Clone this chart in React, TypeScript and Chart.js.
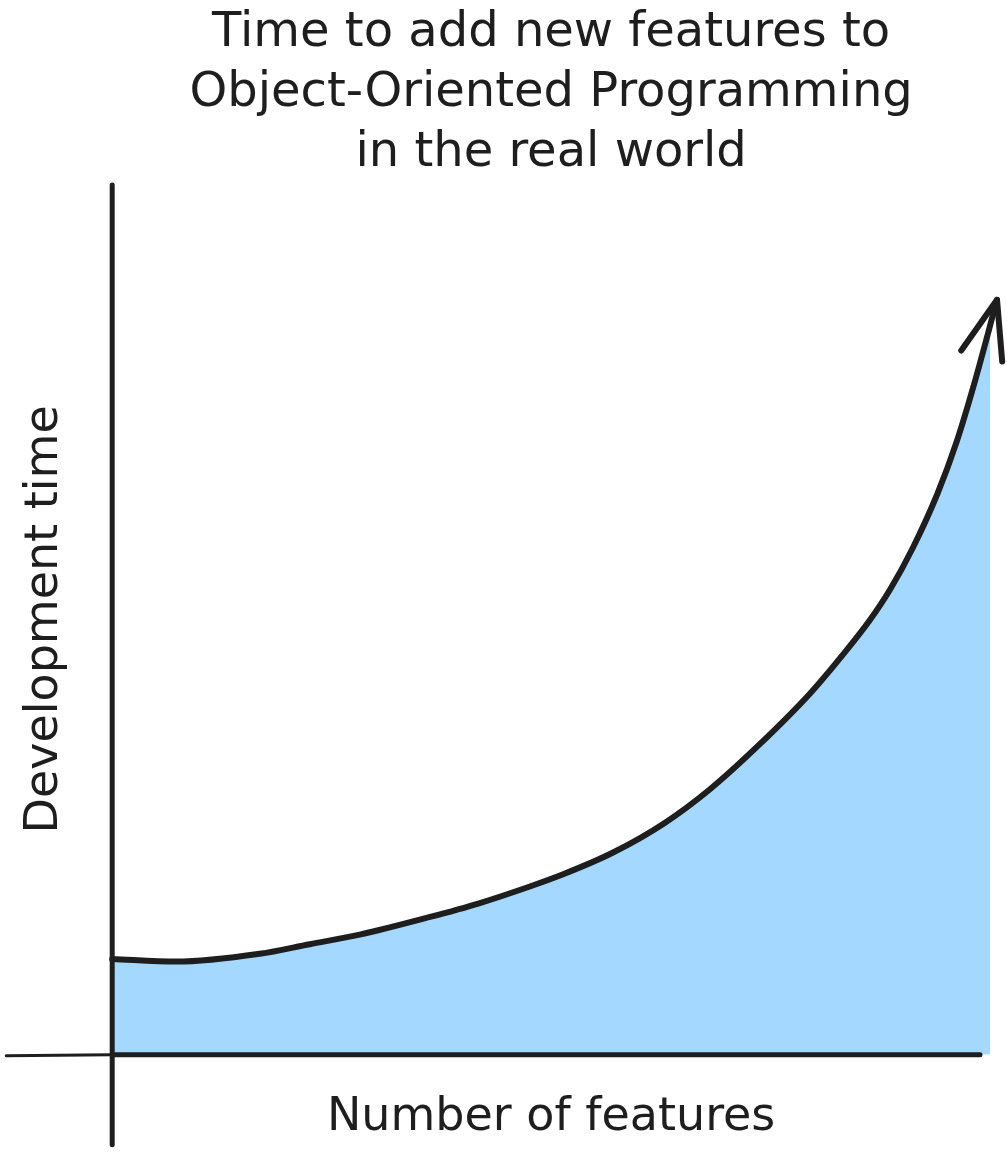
import React, { useEffect, useRef } from "react";
import { Chart, registerables } from "chart.js";

Chart.register(...registerables);

// ---- Text ----
const titleLines = ["Time to add new features to", "Object-Oriented Programming", "in the real world"];
const xAxisLabel = "Number of features";
const yAxisLabel = "Development time";

// ---- Data (arbitrary units 0..100 on both axes) ----
const featureCounts = [0, 7.3, 16.8, 22.5, 28.2, 36.1, 41.8, 47.5, 51.3, 57.0, 62.9, 68.1, 73.8, 79.5, 83.2, 86.3, 88.6, 91.2, 94.0, 96.2, 98.1, 100.8];
const devTime = [11.0, 10.7, 11.6, 12.7, 13.8, 15.8, 17.4, 19.3, 20.7, 23.2, 26.6, 30.5, 35.7, 41.5, 45.9, 49.9, 53.4, 58.2, 64.4, 70.4, 76.7, 86.7];
// the shaded area stops at the right edge, a bit short of the arrow tip
const fillEndX = [100];
const fillEndY = [83.2];

const INK = "#1e1e1e";
const BLUE = "#a5d8ff";
const FONT = "'DejaVu Sans', sans-serif";

const sketchPlugin = {
  id: "sketch",
  afterDatasetsDraw(chart: any) {
    const { ctx, chartArea, scales } = chart;
    const x0 = scales.x.getPixelForValue(0);
    const y0 = scales.y.getPixelForValue(0);
    ctx.save();
    ctx.strokeStyle = INK;
    ctx.lineCap = "round";
    ctx.lineJoin = "round";
    // y axis
    ctx.lineWidth = 5;
    ctx.beginPath();
    ctx.moveTo(x0, chartArea.top + 1);
    ctx.lineTo(x0, chartArea.bottom + 90);
    ctx.stroke();
    // x axis (thin stub left of the y axis)
    ctx.lineWidth = 3;
    ctx.beginPath();
    ctx.moveTo(chartArea.left - 106, y0 + 1);
    ctx.lineTo(x0, y0);
    ctx.stroke();
    ctx.lineWidth = 5;
    ctx.beginPath();
    ctx.moveTo(x0, y0);
    ctx.lineTo(chartArea.right - 10, y0);
    ctx.stroke();
    // arrow head at the end of the curve
    const pts = chart.getDatasetMeta(0).data;
    const tip = pts[pts.length - 1];
    const prev = pts[pts.length - 2];
    const ang = Math.atan2(prev.y - tip.y, prev.x - tip.x);
    const len = 62;
    const spread = (20 * Math.PI) / 180;
    ctx.lineWidth = 6;
    ctx.beginPath();
    ctx.moveTo(tip.x + len * Math.cos(ang + spread), tip.y + len * Math.sin(ang + spread));
    ctx.lineTo(tip.x, tip.y);
    ctx.lineTo(tip.x + len * Math.cos(ang - spread), tip.y + len * Math.sin(ang - spread));
    ctx.stroke();
    ctx.restore();
  },
};

export default function App() {
  const canvasRef = useRef<HTMLCanvasElement | null>(null);

  useEffect(() => {
    document.body.style.margin = "0";
    const canvas = canvasRef.current;
    if (!canvas) return;

    const curve = featureCounts.map((x, i) => ({ x, y: devTime[i] }));
    const area = featureCounts
      .map((x, i) => ({ x, y: devTime[i] }))
      .filter((p) => p.x < fillEndX[0])
      .concat(fillEndX.map((x, i) => ({ x, y: fillEndY[i] })));

    const chart = new Chart(canvas, {
      type: "line",
      data: {
        datasets: [
          {
            label: "curve",
            data: curve,
            borderColor: INK,
            borderWidth: 6,
            borderCapStyle: "round",
            borderJoinStyle: "round",
            pointRadius: 0,
            fill: false,
            cubicInterpolationMode: "monotone",
            clip: false,
          } as any,
          {
            label: "area",
            data: area,
            backgroundColor: BLUE,
            borderColor: "rgba(0,0,0,0)",
            borderWidth: 0,
            pointRadius: 0,
            fill: "origin",
            cubicInterpolationMode: "monotone",
          } as any,
        ],
      },
      options: {
        animation: false,
        responsive: false,
        events: [],
        layout: { padding: { left: 0, right: 17, top: 0, bottom: 0 } },
        plugins: {
          legend: { display: false },
          tooltip: { enabled: false },
          title: {
            display: true,
            text: titleLines,
            fullSize: false,
            color: INK,
            font: { family: FONT, size: 48, weight: "normal", lineHeight: 1.25 },
            padding: { top: 4, bottom: 0 },
          },
        },
        scales: {
          x: {
            type: "linear",
            min: 0,
            max: 100,
            grid: { display: false, drawTicks: false },
            border: { display: false },
            ticks: { display: false },
            title: {
              display: true,
              text: xAxisLabel,
              color: INK,
              font: { family: FONT, size: 46, weight: "normal", lineHeight: 1.2 },
              padding: { top: 36, bottom: 6 },
            },
          },
          y: {
            type: "linear",
            min: 0,
            max: 100,
            grid: { display: false, drawTicks: false },
            border: { display: false },
            ticks: { display: false },
            title: {
              display: true,
              text: yAxisLabel,
              color: INK,
              font: { family: FONT, size: 46, weight: "normal", lineHeight: 1.2 },
              padding: { top: 17, bottom: 40 },
            },
          },
        },
      } as any,
      plugins: [sketchPlugin],
    });

    return () => chart.destroy();
  }, []);

  return (
    <div style={{ width: 1007, height: 1152, background: "#ffffff" }}>
      <canvas ref={canvasRef} width={1007} height={1152} style={{ display: "block" }} />
    </div>
  );
}
